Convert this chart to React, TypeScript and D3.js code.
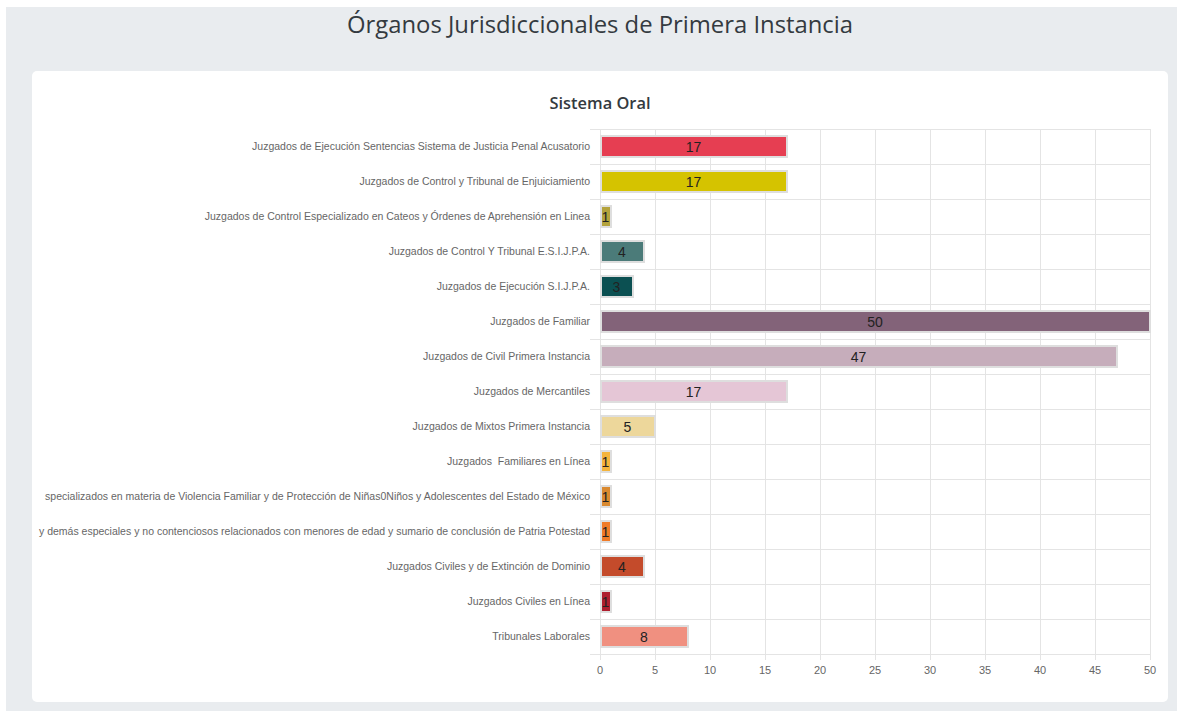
import { useEffect, useRef } from "react";
import * as d3 from "d3";

// category names as they can be read on the chart (the two long ones are cut at the canvas edge)
const categories = [
  "Juzgados de Ejecución Sentencias Sistema de Justicia Penal Acusatorio",
  "Juzgados de Control y Tribunal de Enjuiciamiento",
  "Juzgados de Control Especializado en Cateos y Órdenes de Aprehensión en Linea",
  "Juzgados de Control Y Tribunal E.S.I.J.P.A.",
  "Juzgados de Ejecución S.I.J.P.A.",
  "Juzgados de Familiar",
  "Juzgados de Civil Primera Instancia",
  "Juzgados de Mercantiles",
  "Juzgados de Mixtos Primera Instancia",
  "Juzgados  Familiares en Línea",
  "specializados en materia de Violencia Familiar y de Protección de Niñas0Niños y Adolescentes del Estado de México",
  "y demás especiales y no contenciosos relacionados con menores de edad y sumario de conclusión de Patria Potestad",
  "Juzgados Civiles y de Extinción de Dominio",
  "Juzgados Civiles en Línea",
  "Tribunales Laborales",
];

const values = [17, 17, 1, 4, 3, 50, 47, 17, 5, 1, 1, 1, 4, 1, 8];

const barColors = [
  "#E63E52", "#D5C300", "#B4A33C", "#4B7B79", "#0B5052",
  "#836379", "#C6ADBB", "#E5C6D6", "#EDD79B", "#F4B43C",
  "#DA8A30", "#F07B28", "#C44B2B", "#AE1E2E", "#F09080",
];

const xTicks = [0, 5, 10, 15, 20, 25, 30, 35, 40, 45, 50];

const App = () => {
  const ref = useRef<SVGSVGElement>(null);

  useEffect(() => {
    const W = 1177;
    const H = 711;
    const svg = d3.select(ref.current);
    svg.selectAll("*").remove();

    // page background + card
    svg.append("rect").attr("width", W).attr("height", H).attr("fill", "#ffffff");
    svg.append("rect").attr("x", 6).attr("y", 7).attr("width", W - 6).attr("height", H - 7).attr("fill", "#E9ECEF");
    svg.append("rect").attr("x", 32).attr("y", 71).attr("width", 1136).attr("height", 631)
      .attr("rx", 5).attr("fill", "#ffffff");

    // titles
    svg.append("text")
      .attr("x", 600).attr("y", 33)
      .attr("text-anchor", "middle")
      .attr("font-family", "'Open Sans', sans-serif")
      .attr("font-size", 23)
      .attr("font-weight", 500)
      .attr("fill", "#343a40")
      .attr("textLength", 506)
      .attr("lengthAdjust", "spacingAndGlyphs")
      .text("Órganos Jurisdiccionales de Primera Instancia");

    svg.append("text")
      .attr("x", 600).attr("y", 109)
      .attr("text-anchor", "middle")
      .attr("font-family", "'Open Sans', sans-serif")
      .attr("font-size", 16)
      .attr("font-weight", 600)
      .attr("fill", "#343a40")
      .attr("textLength", 101)
      .attr("lengthAdjust", "spacingAndGlyphs")
      .text("Sistema Oral");

    const x = d3.scaleLinear().domain([0, 50]).range([600, 1150]);
    const y = d3.scaleBand().domain(categories).range([129, 654]);

    const grid = svg.append("g").attr("stroke", "#e4e4e4").attr("stroke-width", 1);

    // vertical grid
    grid.selectAll(".vg")
      .data(xTicks)
      .enter()
      .append("line")
      .attr("x1", d => Math.round(x(d)) + 0.5)
      .attr("x2", d => Math.round(x(d)) + 0.5)
      .attr("y1", 129)
      .attr("y2", 660);

    // horizontal grid (band edges)
    const edges = categories.map(c => y(c) as number).concat([654]);
    grid.selectAll(".hg")
      .data(edges)
      .enter()
      .append("line")
      .attr("x1", 590)
      .attr("x2", 1151)
      .attr("y1", d => Math.round(d) + 0.5)
      .attr("y2", d => Math.round(d) + 0.5);

    // x tick labels
    svg.append("g")
      .selectAll("text")
      .data(xTicks)
      .enter()
      .append("text")
      .attr("x", d => x(d))
      .attr("y", 674)
      .attr("text-anchor", "middle")
      .attr("font-family", "'Liberation Sans', Arial, sans-serif")
      .attr("font-size", 11)
      .attr("fill", "#666")
      .text(d => d);

    // category labels
    svg.append("g")
      .selectAll("text")
      .data(categories)
      .enter()
      .append("text")
      .attr("x", 590)
      .attr("y", d => (y(d) as number) + y.bandwidth() / 2)
      .attr("dy", "0.35em")
      .attr("text-anchor", "end")
      .attr("font-family", "'Liberation Sans', Arial, sans-serif")
      .attr("font-size", 10.5)
      .attr("fill", "#666")
      .style("white-space", "pre")
      .text(d => d);

    const barH = 21;

    // bars
    svg.append("g")
      .selectAll("rect")
      .data(values)
      .enter()
      .append("rect")
      .attr("x", x(0) + 1)
      .attr("y", (d, i) => (y(categories[i]) as number) + y.bandwidth() / 2 - barH / 2)
      .attr("width", d => x(d) - x(0) - 1)
      .attr("height", barH)
      .attr("fill", (d, i) => barColors[i])
      .attr("stroke", "#dedede")
      .attr("stroke-width", 2);

    // value labels
    svg.append("g")
      .selectAll("text")
      .data(values)
      .enter()
      .append("text")
      .attr("x", d => (x(0) + x(d)) / 2)
      .attr("y", (d, i) => (y(categories[i]) as number) + y.bandwidth() / 2)
      .attr("dy", "0.36em")
      .attr("text-anchor", "middle")
      .attr("font-family", "'Liberation Sans', Arial, sans-serif")
      .attr("font-size", 14)
      .attr("fill", "#222")
      .text(d => d);
  }, []);

  return (
    <div style={{ position: "absolute", left: 0, top: 0 }}>
      <svg ref={ref} width={1177} height={711} style={{ display: "block" }} />
    </div>
  );
};

export default App;
